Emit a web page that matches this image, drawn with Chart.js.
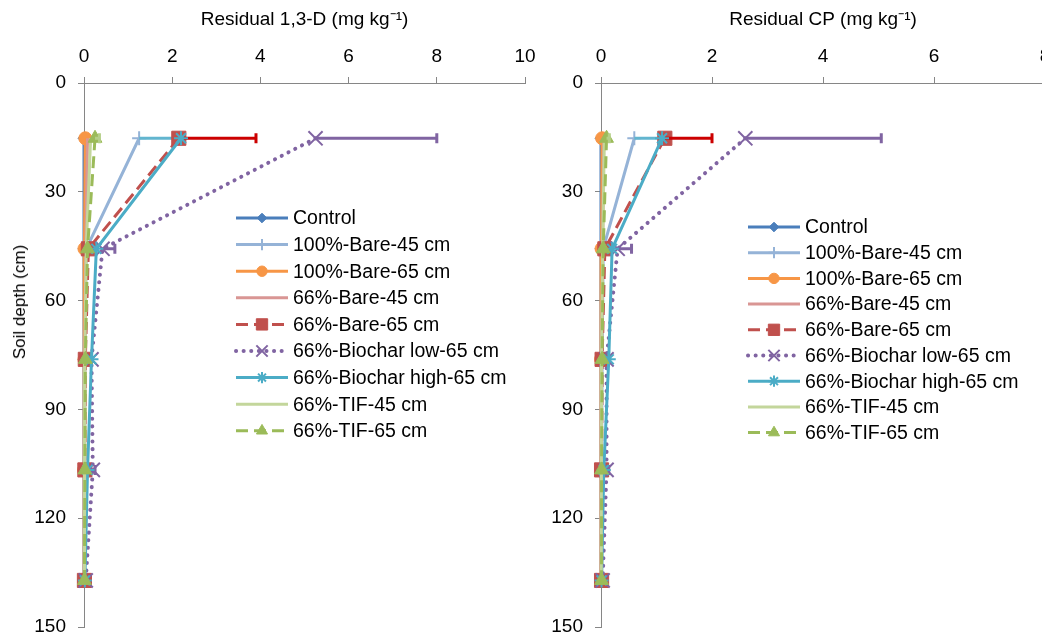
<!DOCTYPE html>
<html lang="en">
<head>
<meta charset="UTF-8" />
<title>Residual 1,3-D and CP by soil depth</title>
<style>
  body {
    margin: 0;
    width: 1042px;
    height: 632px;
    overflow: hidden;
    position: relative;
    background: #fff;
    font-family: 'Liberation Sans', Arial, sans-serif;
  }
  .panel { position: absolute; top: 0; height: 639px; }
  #panelA { left: 0; width: 545px; }
  #panelB { left: 520px; width: 540px; }
  .y-title {
    position: absolute;
    left: 20px;
    top: 302px;
    transform: translate(-50%, -50%) rotate(-90deg);
    font-size: 17px;
    font-weight: normal;
    white-space: nowrap;
    color: #000;
  }
</style>
</head>
<body>
  <div class="panel" id="panelA"><canvas id="chartA"></canvas></div>
  <div class="panel" id="panelB"><canvas id="chartB"></canvas></div>
  <div class="y-title">Soil depth (cm)</div>

  <script src="https://cdn.jsdelivr.net/npm/chart.js"></script>
  <script>
    // sampling depths (cm)
    const depths = [15.24, 45.72, 76.2, 106.68, 137.16];
    const yTicks = [0, 30, 60, 90, 120, 150];

    const seriesNames = ['Control', '100%-Bare-45 cm', '100%-Bare-65 cm', '66%-Bare-45 cm', '66%-Bare-65 cm',
      '66%-Biochar low-65 cm', '66%-Biochar high-65 cm', '66%-TIF-45 cm', '66%-TIF-65 cm'];

    // a. Residual 1,3-D (mg kg-1)
    const dControl     = [0.00, 0.00, 0.00, 0.00, 0.00];
    const dBare100_45  = [1.25, 0.05, 0.02, 0.01, 0.01];
    const dBare100_65  = [0.03, 0.01, 0.01, 0.00, 0.00];
    const dBare66_45   = [0.08, 0.04, 0.02, 0.01, 0.01];
    const dBare66_65   = [2.15, 0.10, 0.03, 0.02, 0.01];
    const dBiocharLow  = [5.25, 0.42, 0.17, 0.20, 0.04];
    const dBiocharHigh = [2.20, 0.28, 0.17, 0.08, 0.02];
    const dTif45       = [0.15, 0.05, 0.02, 0.01, 0.01];
    const dTif65       = [0.25, 0.08, 0.03, 0.02, 0.01];
    // plus-side error bars
    const dErrBare100_45 = [0.95, 0, 0, 0, 0];
    const dErrBare66_65  = [1.75, 0, 0, 0, 0];
    const dErrBiocharLow = [2.75, 0.28, 0, 0.05, 0];
    const dErrTif65      = [0.10, 0, 0, 0, 0];

    // b. Residual CP (mg kg-1)
    const cControl     = [0.00, 0.00, 0.00, 0.00, 0.00];
    const cBare100_45  = [0.60, 0.04, 0.02, 0.01, 0.01];
    const cBare100_65  = [0.02, 0.01, 0.00, 0.00, 0.00];
    const cBare66_45   = [0.05, 0.03, 0.01, 0.01, 0.00];
    const cBare66_65   = [1.15, 0.07, 0.02, 0.01, 0.01];
    const cBiocharLow  = [2.60, 0.30, 0.10, 0.10, 0.03];
    const cBiocharHigh = [1.10, 0.20, 0.14, 0.05, 0.01];
    const cTif45       = [0.06, 0.03, 0.01, 0.01, 0.00];
    const cTif65       = [0.10, 0.04, 0.02, 0.01, 0.01];
    const cErrBare100_45 = [0.50, 0, 0, 0, 0];
    const cErrBare66_65  = [0.85, 0, 0, 0, 0];
    const cErrBiocharLow = [2.45, 0.25, 0, 0.04, 0];
    const cErrTif65      = [0.05, 0, 0, 0, 0];

    // look of each series (Excel 2010 palette)
    const STYLES = [
      { color: '#4a7ebb', marker: 'rectRot', r: 6, bw: 1, dash: [] },
      { color: '#95b3d7', marker: 'cross', r: 7, bw: 2, dash: [], err: '#62b5cf' },
      { color: '#f79646', marker: 'circle', r: 6.5, bw: 1, dash: [] },
      { color: '#d99694', marker: false, r: 0, bw: 0, dash: [] },
      { color: '#c0504d', marker: 'rect', r: 10, bw: 1, dash: [12, 6], err: '#cc0000' },
      { color: '#8064a2', marker: 'crossRot', r: 10, bw: 2, dash: [0.1, 7.5], cap: 'round', width: 4, err: '#8064a2' },
      { color: '#4bacc6', marker: 'star', r: 7, bw: 2, dash: [] },
      { color: '#c3d69b', marker: false, r: 0, bw: 0, dash: [] },
      { color: '#9bbb59', marker: 'triangle', r: 8, bw: 1, dash: [12, 6], err: '#b5cf88' }
    ];

    Chart.defaults.font.family = "'Liberation Sans', Arial, sans-serif";
    Chart.defaults.color = '#000';

    // Excel-style "plus" error bars, drawn right after their series
    const plusErrorBars = {
      id: 'plusErrorBars',
      afterDatasetDraw(chart, args) {
        const ds = chart.data.datasets[args.index];
        if (!ds.errPlus) return;
        const xs = chart.scales.x, ys = chart.scales.y, ctx = chart.ctx;
        ctx.save();
        ctx.strokeStyle = ds.errColor;
        ctx.lineWidth = 3;
        ctx.setLineDash([]);
        ds.data.forEach((p, i) => {
          const e = ds.errPlus[i];
          if (!e) return;
          const x0 = xs.getPixelForValue(p.x);
          const x1 = xs.getPixelForValue(p.x + e);
          const y = ys.getPixelForValue(p.y);
          ctx.beginPath();
          ctx.moveTo(x0, y); ctx.lineTo(x1, y);
          ctx.moveTo(x1, y - 5); ctx.lineTo(x1, y + 5);
          ctx.stroke();
        });
        ctx.restore();
      }
    };

    // legend drawn inside the plot, line + marker like Excel
    const insideLegend = {
      id: 'insideLegend',
      afterDraw(chart, args, opts) {
        const ctx = chart.ctx;
        chart.data.datasets.forEach((ds, i) => {
          const y = opts.top + i * opts.step;
          const x0 = opts.left, x1 = opts.left + 52;
          ctx.save();
          ctx.strokeStyle = ds.borderColor;
          ctx.lineWidth = ds.borderWidth;
          ctx.lineCap = ds.borderCapStyle || 'butt';
          ctx.setLineDash(ds.borderDash || []);
          ctx.beginPath(); ctx.moveTo(x0, y); ctx.lineTo(x1, y); ctx.stroke();
          ctx.setLineDash([]);
          ctx.lineCap = 'butt';
          if (ds.pointStyle && Chart.helpers && Chart.helpers.drawPoint) {
            ctx.fillStyle = ds.pointBackgroundColor;
            ctx.strokeStyle = ds.pointBorderColor;
            ctx.lineWidth = ds.pointBorderWidth;
            Chart.helpers.drawPoint(ctx, {
              pointStyle: ds.pointStyle, radius: ds.pointRadius * 0.8,
              rotation: 0, borderWidth: ds.pointBorderWidth
            }, (x0 + x1) / 2, y);
          }
          ctx.fillStyle = '#000';
          ctx.font = "19.5px 'Liberation Sans', Arial, sans-serif";
          ctx.textBaseline = 'middle';
          ctx.textAlign = 'left';
          ctx.fillText(ds.label, x1 + 5, y + 1);
          ctx.restore();
        });
      }
    };

    function buildDatasets(values, errors) {
      return values.map((vals, i) => {
        const s = STYLES[i];
        return {
          label: seriesNames[i],
          data: vals.map((v, k) => ({ x: v, y: depths[k] })),
          showLine: true,
          tension: 0,
          clip: false,
          order: -i, // later series on top, as in Excel
          borderColor: s.color,
          borderWidth: s.width || 3,
          borderDash: s.dash,
          borderCapStyle: s.cap || 'butt',
          pointStyle: s.marker,
          pointRadius: s.r,
          pointHoverRadius: s.r,
          pointBorderWidth: s.bw,
          pointBackgroundColor: s.color,
          pointBorderColor: s.color,
          errPlus: errors[i] || null,
          errColor: s.err || s.color
        };
      });
    }

    function makePanel(canvasId, values, errors, xMax, xTitle, yWidth, padRight, legendPos) {
      return new Chart(document.getElementById(canvasId).getContext('2d'), {
        type: 'scatter',
        data: { datasets: buildDatasets(values, errors) },
        options: {
          responsive: true,
          maintainAspectRatio: false,
          animation: false,
          layout: { padding: { left: 0, right: padRight, top: 0, bottom: 0 } },
          scales: {
            x: {
              type: 'linear',
              position: 'top',
              min: 0,
              max: xMax,
              ticks: { stepSize: 2, font: { size: 19 }, padding: 9, color: '#000' },
              grid: { display: true, drawOnChartArea: false, drawTicks: true, tickLength: 6, color: '#868686' },
              border: { display: true, color: '#868686', width: 1 },
              title: { display: true, text: xTitle, font: { size: 19 }, color: '#000', padding: { top: 8, bottom: 0 } },
              afterFit(scale) { scale.height = 83; scale.paddingLeft = 0; scale.paddingRight = 0; }
            },
            y: {
              type: 'linear',
              reverse: true,
              min: 0,
              max: 150,
              afterBuildTicks(scale) { scale.ticks = yTicks.map(v => ({ value: v })); },
              ticks: { font: { size: 19 }, padding: 12, color: '#000' },
              grid: { display: true, drawOnChartArea: false, drawTicks: true, tickLength: 6, color: '#868686' },
              border: { display: true, color: '#868686', width: 1 },
              afterFit(scale) { scale.width = yWidth; scale.paddingTop = 0; scale.paddingBottom = 0; }
            }
          },
          plugins: {
            legend: { display: false },
            tooltip: { enabled: false },
            insideLegend: legendPos
          }
        },
        plugins: [plusErrorBars, insideLegend]
      });
    }

    makePanel('chartA',
      [dControl, dBare100_45, dBare100_65, dBare66_45, dBare66_65, dBiocharLow, dBiocharHigh, dTif45, dTif65],
      [null, dErrBare100_45, null, null, dErrBare66_65, dErrBiocharLow, null, null, dErrTif65],
      10, 'Residual 1,3-D (mg kg\u207B\u00B9)', 84, 20,
      { left: 236, top: 218, step: 26.6 });

    makePanel('chartB',
      [cControl, cBare100_45, cBare100_65, cBare66_45, cBare66_65, cBiocharLow, cBiocharHigh, cTif45, cTif65],
      [null, cErrBare100_45, null, null, cErrBare66_65, cErrBiocharLow, null, null, cErrTif65],
      8, 'Residual CP (mg kg\u207B\u00B9)', 81, 15,
      { left: 228, top: 227, step: 25.7 });
  </script>
</body>
</html>
